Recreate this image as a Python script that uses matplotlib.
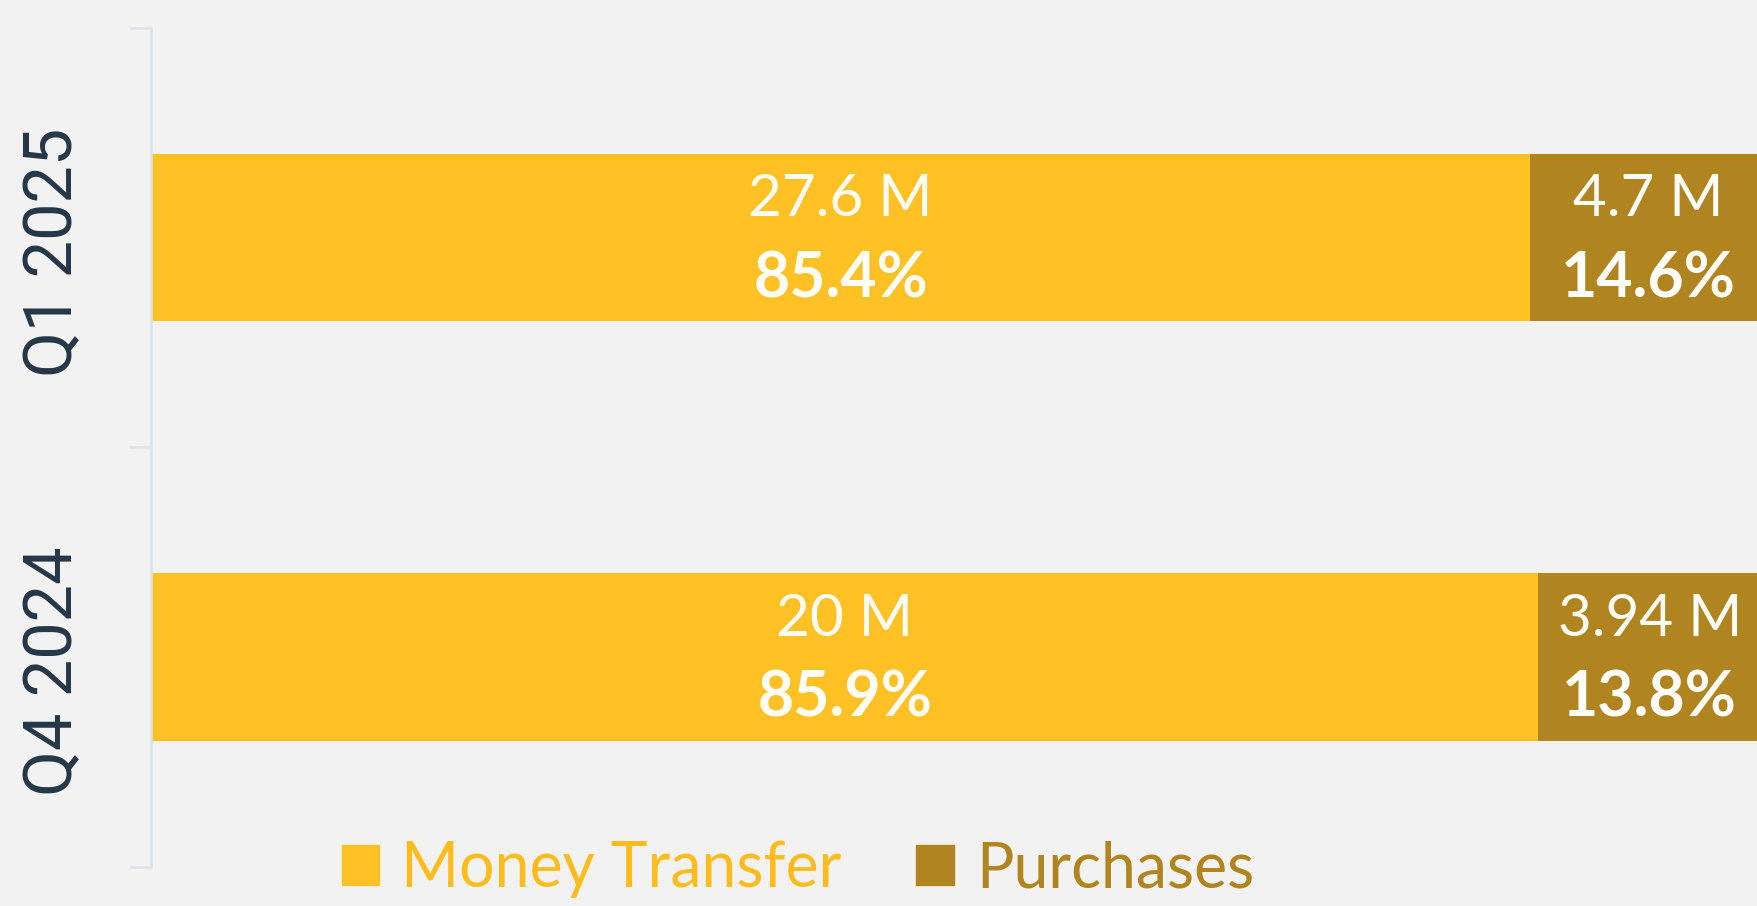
import matplotlib.pyplot as plt
from matplotlib.patches import Patch
from matplotlib.transforms import blended_transform_factory

# 데이터
quarters = ["Q4 2024", "Q1 2025"]
money_pct = [85.9, 85.4]
purchase_pct = [13.8, 14.6]
money_val = [20, 27.6]
purchase_val = [3.94, 4.7]
series = ["Money Transfer", "Purchases"]

yellow = "#FFC124"
brown = "#B0841F"
bg = "#F2F2F2"
axis_col = "#DCE3EA"

W, H = 1758, 906
fig = plt.figure(figsize=(W / 100, H / 100), dpi=100, facecolor=bg)
# 오른쪽 끝은 그림 밖으로 살짝 나감 (원본처럼 잘림)
ax = fig.add_axes([151 / W, 39.3 / H, (1766 - 151) / W, (866.7 - 27.7) / H])
ax.set_facecolor(bg)

y = list(range(len(quarters)))
ax.barh(y, money_pct, height=0.4, color=yellow, edgecolor="none")
ax.barh(y, purchase_pct, left=money_pct, height=0.4, color=brown, edgecolor="none")

ax.set_xlim(0, 100)
ax.set_ylim(-0.5, 1.5)

# 축 스타일
for s in ["top", "right", "bottom"]:
    ax.spines[s].set_visible(False)
ax.spines["left"].set_color(axis_col)
ax.spines["left"].set_linewidth(1.8)
ax.set_xticks([])
ax.set_yticks([-0.5, 0.5, 1.5])
ax.set_yticklabels([])
ax.tick_params(axis="y", length=16, width=1.8, color=axis_col, direction="out")

# 분기 라벨 (세로)
tr = blended_transform_factory(fig.transFigure, ax.transData)
for i, q in enumerate(quarters):
    ax.text(54 / W, i - 0.035, q, transform=tr, rotation=90, ha="center", va="center",
            fontsize=48, color="#253746", family=["Roboto", "DejaVu Sans"])

# 막대 라벨
for i in range(len(quarters)):
    xs = [money_pct[i] / 2, money_pct[i] + purchase_pct[i] / 2]
    vals = [money_val[i], purchase_val[i]]
    pcts = [money_pct[i], purchase_pct[i]]
    for x, v, p in zip(xs, vals, pcts):
        ax.annotate(f"{v:g} M", (x, i), xytext=(0, 27), textcoords="offset points",
                    ha="center", va="center", fontsize=42, color="white",
                    family="Lato", fontweight="normal")
        ax.annotate(f"{p:.1f}%", (x, i), xytext=(0, -30), textcoords="offset points",
                    ha="center", va="center", fontsize=45, color="white",
                    family="Lato", fontweight="bold")

# 범례
handles = [Patch(color=yellow), Patch(color=brown)]
leg = fig.legend(handles, series, loc="center", bbox_to_anchor=(798 / W, 37 / H),
                 ncol=2, frameon=False, handlelength=0.6, handleheight=0.6,
                 handletextpad=0.35, columnspacing=1.2, labelcolor=["#FFBC1F", brown],
                 prop={"family": "Lato", "weight": "normal", "size": 45})

fig.savefig("out.png", dpi=100, facecolor=bg)
